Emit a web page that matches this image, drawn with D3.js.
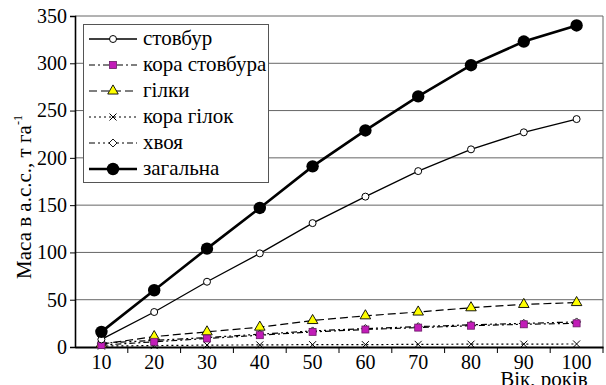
<!DOCTYPE html>
<html>
<head>
<meta charset="utf-8">
<script src="https://cdn.jsdelivr.net/npm/d3@7"></script>
<style>
  body { margin: 0; background: #fff; }
</style>
</head>
<body>
<svg id="chart"></svg>
<script>
// age classes, years
const ages = [10, 20, 30, 40, 50, 60, 70, 80, 90, 100];
const yTicks = [0, 50, 100, 150, 200, 250, 300, 350];

// biomass, t/ha
const stovbur      = [8, 37, 69, 99, 131, 159, 186, 209, 227, 241];
const koraStovbura = [2, 5.5, 9, 12.5, 16, 18.5, 20.5, 22.5, 24, 25];
const hilky        = [3, 11, 16, 21, 28, 33, 37, 41.5, 45, 47];
const koraHilok    = [1, 1.5, 2, 2.2, 2.5, 2.5, 2.8, 3, 3, 3.2];
const khvoia       = [4, 7, 10, 13.5, 17, 19.5, 21.5, 23.5, 25, 26.5];
const zahalna      = [16, 60, 104, 147, 191, 229, 265, 298, 323, 340];

const series = [
  {name: 'стовбур', values: stovbur, dash: null, width: 1.3, marker: 'circle'},
  {name: 'кора стовбура', values: koraStovbura, dash: '6,3,2,3', width: 1.2, marker: 'square'},
  {name: 'гілки', values: hilky, dash: '8,4', width: 1.2, marker: 'triangle'},
  {name: 'кора гілок', values: koraHilok, dash: '2,3', width: 1.2, marker: 'cross'},
  {name: 'хвоя', values: khvoia, dash: '6,3,2,3,2,3', width: 1.2, marker: 'diamond'},
  {name: 'загальна', values: zahalna, dash: null, width: 2.6, marker: 'big'}
];

const FONT = '"Liberation Serif"';
const W = 606, H = 385;
const margin = {top: 16, right: 3, bottom: 38, left: 75};
const width = W - margin.left - margin.right;
const height = H - margin.top - margin.bottom;

const svg = d3.select('#chart').attr('width', W).attr('height', H)
  .style('font-family', FONT);
const chart = svg.append('g').attr('transform', `translate(${margin.left},${margin.top})`);

const xScale = d3.scaleBand().domain(ages).range([0, width]).padding(0);
const yScale = d3.scaleLinear().domain([0, 350]).range([height, 0]);
const xPos = a => xScale(a) + xScale.bandwidth() / 2;

// gridlines
chart.append('g')
  .selectAll('line')
  .data(yTicks.filter(d => d > 0))
  .join('line')
  .attr('x1', 0).attr('x2', width)
  .attr('y1', d => yScale(d)).attr('y2', d => yScale(d))
  .attr('stroke', '#666').attr('stroke-width', 1);

// right border
chart.append('line')
  .attr('x1', width).attr('x2', width)
  .attr('y1', 0).attr('y2', height)
  .attr('stroke', '#666').attr('stroke-width', 1);

// y axis
const yAxisG = chart.append('g')
  .call(d3.axisLeft(yScale).tickValues(yTicks).tickSize(5).tickPadding(3));
yAxisG.attr('font-family', null).attr('font-size', null);
yAxisG.select('.domain').attr('stroke', '#000').attr('stroke-width', 1.6);
yAxisG.selectAll('.tick line').attr('stroke', '#000');
yAxisG.selectAll('text').style('font-family', FONT).style('font-size', '20px');

// x axis: labels centred in each band, ticks at band edges
const xAxisG = chart.append('g').attr('transform', `translate(0,${height})`)
  .call(d3.axisBottom(xScale).tickSize(0).tickPadding(8));
xAxisG.attr('font-family', null).attr('font-size', null);
xAxisG.select('.domain').attr('stroke', '#000').attr('stroke-width', 2.2);
xAxisG.selectAll('text').style('font-family', FONT).style('font-size', '20px');
chart.append('g')
  .selectAll('line')
  .data(ages.slice(1).concat(['end']))
  .join('line')
  .attr('x1', d => d === 'end' ? width : xScale(d))
  .attr('x2', d => d === 'end' ? width : xScale(d))
  .attr('y1', height).attr('y2', height + 6)
  .attr('stroke', '#000');

// markers
function drawMarker(g, type, x, y) {
  if (type === 'circle') {
    g.append('circle').attr('cx', x).attr('cy', y).attr('r', 3.5)
      .attr('fill', '#fff').attr('stroke', '#000').attr('stroke-width', 1);
  } else if (type === 'big') {
    g.append('circle').attr('cx', x).attr('cy', y).attr('r', 6.2).attr('fill', '#000');
  } else if (type === 'square') {
    g.append('rect').attr('x', x - 3.5).attr('y', y - 3.5).attr('width', 7).attr('height', 7)
      .attr('fill', '#c21cb8').attr('stroke', '#6a1a66').attr('stroke-width', 0.8);
  } else if (type === 'triangle') {
    g.append('path').attr('d', d3.symbol(d3.symbolTriangle, 48)()).attr('transform', `translate(${x},${y})`)
      .attr('fill', '#ffff00').attr('stroke', '#000').attr('stroke-width', 0.9);
  } else if (type === 'cross') {
    g.append('path').attr('d', `M${x - 3.5},${y - 3.5}L${x + 3.5},${y + 3.5}M${x - 3.5},${y + 3.5}L${x + 3.5},${y - 3.5}`)
      .attr('stroke', '#000').attr('stroke-width', 1);
  } else if (type === 'diamond') {
    g.append('path').attr('d', `M${x},${y - 4}L${x + 4},${y}L${x},${y + 4}L${x - 4},${y}Z`)
      .attr('fill', '#fff').attr('stroke', '#000').attr('stroke-width', 0.9);
  }
}

const line = d3.line().x((d, i) => xPos(ages[i])).y(d => yScale(d));

// draw small series first, then stovbur and zahalna on top
const order = [4, 3, 2, 1, 0, 5];
order.forEach(k => {
  const s = series[k];
  const g = chart.append('g');
  g.append('path')
    .attr('d', line(s.values))
    .attr('fill', 'none')
    .attr('stroke', '#000')
    .attr('stroke-width', s.width)
    .attr('stroke-dasharray', s.dash);
  s.values.forEach((v, i) => drawMarker(g, s.marker, xPos(ages[i]), yScale(v)));
});

// legend
const legend = svg.append('g');
legend.append('rect')
  .attr('x', 83.5).attr('y', 24.5).attr('width', 185).attr('height', 158)
  .attr('fill', '#fff').attr('stroke', '#555').attr('stroke-width', 1);
series.forEach((s, i) => {
  const y = 39 + i * 26;
  legend.append('line')
    .attr('x1', 89).attr('x2', 137).attr('y1', y).attr('y2', y)
    .attr('stroke', '#000').attr('stroke-width', s.width)
    .attr('stroke-dasharray', s.dash);
  drawMarker(legend, s.marker, 113, y);
  legend.append('text')
    .attr('x', 143).attr('y', y + 6)
    .style('font-family', FONT)
    .style('font-size', '21px')
    .text(s.name);
});

// axis titles
const yt = svg.append('text')
  .attr('transform', 'translate(31,197) rotate(-90)')
  .attr('text-anchor', 'middle')
  .style('font-family', FONT)
  .style('font-size', '21px');
yt.append('tspan').text('Маса в а.с.с., т га');
yt.append('tspan').attr('dy', -9).style('font-size', '12px').text('-1');

svg.append('text')
  .attr('x', 544).attr('y', 386)
  .attr('text-anchor', 'middle')
  .style('font-family', FONT)
  .style('font-size', '21px')
  .text('Вік, років');
</script>
</body>
</html>
